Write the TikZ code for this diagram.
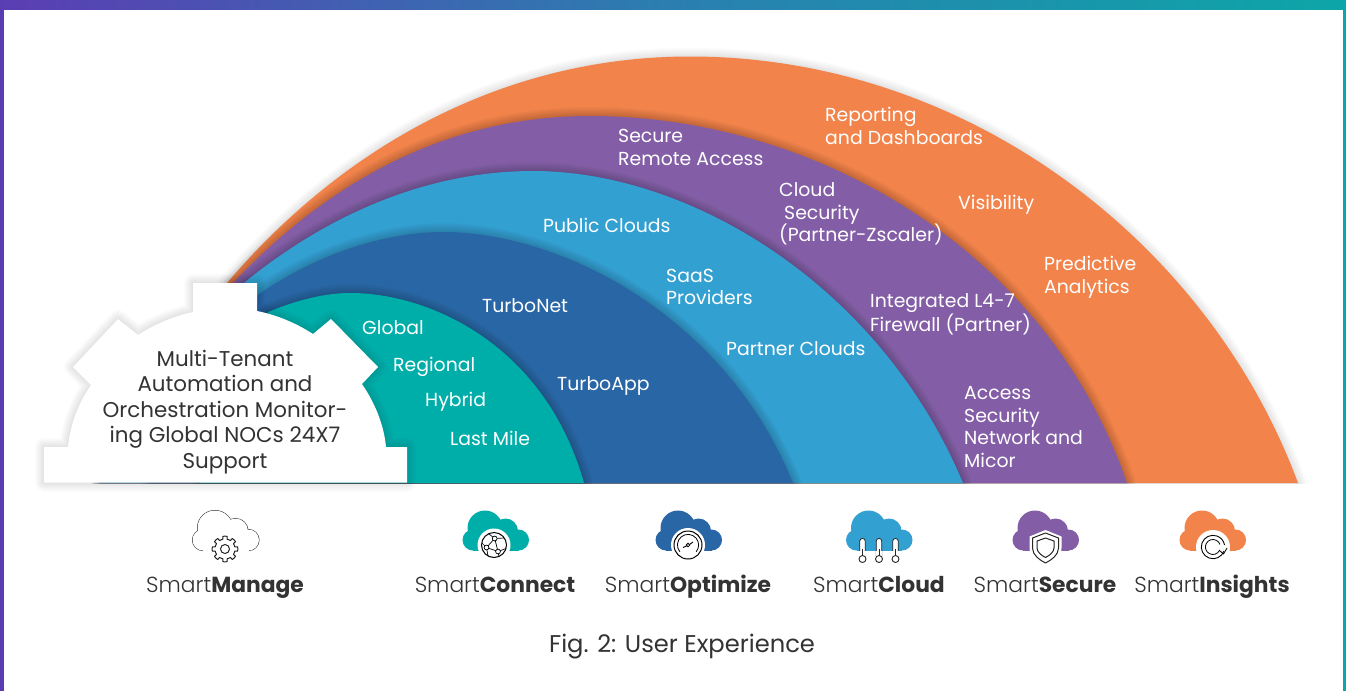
\documentclass[tikz,border=0pt]{standalone}
\usepackage{fontspec}
\setmainfont{Poppins}
\newfontfamily\lightfam{Poppins Light}
\definecolor{cOrange}{HTML}{F1834B}
\definecolor{cPurple}{HTML}{835EA6}
\definecolor{cBlue}{HTML}{33A0D2}
\definecolor{cDark}{HTML}{2966A5}
\definecolor{cTeal}{HTML}{00AEA9}
\definecolor{cInk}{HTML}{333333}
\definecolor{cBarL}{HTML}{5B3DB3}
\definecolor{cBarM}{HTML}{2A7FB0}
\definecolor{cBarR}{HTML}{0DA6A8}
\newcommand\pOrange{(100,483) -- (227,283) .. controls (340,150) and (500,56.5) .. (690,56.5) .. controls (970,56.5) and (1210,245) .. (1298,483) -- cycle}
\newcommand\pPurple{(100,483) -- (233,283) .. controls (340,170) and (460,116) .. (590,116) .. controls (810,116) and (1045,245) .. (1127,483) -- cycle}
\newcommand\pBlue{(100,483) -- (245,282) .. controls (340,205) and (440,171) .. (533,171) .. controls (690,171) and (880,285) .. (963,483) -- cycle}
\newcommand\pDark{(150,483) -- (258,295) .. controls (310,258) and (380,232) .. (443,232) .. controls (560,232) and (725,315) .. (793,483) -- cycle}
\newcommand\pTeal{(200,483) -- (268,312) .. controls (290,303) and (320,293) .. (350,293) .. controls (430,293) and (545,345) .. (584,483) -- cycle}
\newcommand\archband[3]{%
  \begin{scope}\clip (0,0) rectangle (1346,483);
  \foreach \w in {2,4,...,18}{\draw[black,opacity=#3,line width=\w pt,line join=round] #1;}
  \end{scope}
  \fill[#2] #1;}
\newcommand\gearoutline{(44,447) -- (68,447) .. controls (70,427) and (77,405) .. (91,385) -- (73,367) -- (118,319) -- (138,335) .. controls (155,324) and (174,316) .. (193,312) -- (193,283) -- (257,283) -- (257,311) .. controls (277,315) and (296,323) .. (313,334) -- (331,319) -- (378,367) -- (362,384) .. controls (375,403) and (384,425) .. (386,447) -- (407,447) -- (407,482.6) -- (44,482.6) -- cycle}
\newcommand\cloudparts[1]{%
  #1 (-10.5,528) circle[radius=17.5];
  #1 (10,531) circle[radius=12.5];
  #1 (-22.5,540) circle[radius=10.5];
  #1 (23,540) circle[radius=10.5];
  #1 (-22.5,535) rectangle (23,550.5);}
\newcommand\brandlabel[3]{\node[brand,name=#1] at (#2,592) {{\lightfam Smart}\textbf{#3}};}
\tikzset{
  lbl/.style={text=white,anchor=west,align=left,inner sep=0pt,font=\fontsize{18.85}{22.6}\selectfont},
  brand/.style={text=cInk,anchor=base,inner sep=0pt,font=\fontsize{21.8}{25}\selectfont},
  iconstroke/.style={draw=black!85,line width=1pt}
}
\begin{document}
\begin{tikzpicture}[x=1pt,y=-1pt]
\useasboundingbox (0,0) rectangle (1346,691);
\fill[white] (0,0) rectangle (1346,691);
\shade[left color=cBarL,right color=cBarR,middle color=cBarM] (0,0) rectangle (1346,9);
\fill[cBarL] (0,9) rectangle (4,691);
\fill[cBarR] (1343,9) rectangle (1346,691);
% bands
\archband{\pOrange}{cOrange}{.012}
\archband{\pPurple}{cPurple}{.018}
\archband{\pBlue}{cBlue}{.018}
\archband{\pDark}{cDark}{.018}
\archband{\pTeal}{cTeal}{.018}
% gear
\foreach \w in {2,4,...,18}{\draw[black,opacity=.012,line width=\w pt,line join=round] \gearoutline;}
\fill[white] \gearoutline;
\node[name=hub,text=cInk,align=center,inner sep=0pt,font=\fontsize{21.4}{25.6}\selectfont] at (225,412) {Multi-Tenant\\Automation and\\Orchestration Monitor-\\ing Global NOCs 24X7\\Support};
% labels
\node[lbl,name=l1] at (825,126) {Reporting\\and Dashboards};
\node[lbl,name=l2] at (618,147.5) {Secure\\Remote Access};
\node[lbl,name=l3] at (958,205) {Visibility};
\node[lbl,name=l4] at (779,214) {Cloud\\\hspace*{5pt}Security\\(Partner-Zscaler)};
\node[lbl,name=l5] at (543,225.5) {Public Clouds};
\node[lbl,name=l6] at (666,287) {SaaS\\Providers};
\node[lbl,name=l7] at (1044,277.5) {Predictive\\Analytics};
\node[lbl,name=l8] at (870,314.5) {Integrated L4-7\\Firewall (Partner)};
\node[lbl,name=l9] at (362,328) {Global};
\node[lbl,name=l10] at (393,367) {Regional};
\node[lbl,name=l11] at (425,402) {Hybrid};
\node[lbl,name=l12] at (450,438) {Last Mile};
\node[lbl,name=l13] at (482,306) {TurboNet};
\node[lbl,name=l14] at (557,386) {TurboApp};
\node[lbl,name=l15] at (726,349) {Partner Clouds};
\node[lbl,name=l16] at (964,427) {Access\\Security\\Network and\\Micor};
% SmartManage icon
\begin{scope}[shift={(225.5,0)}]
  \cloudparts{\draw[black!85,line width=1pt]}
  \cloudparts{\fill[white]}
  \fill[white] (0,549) circle[radius=16];
\end{scope}
\begin{scope}[shift={(225,549)}]
  \draw[iconstroke,fill=white,line join=round] plot[domain=0:360,samples=145] (\x:{(cos(8*\x)>0?12.8:10)}) -- cycle;
  \draw[iconstroke] (0,0) circle[radius=4.5];
\end{scope}
% SmartConnect icon
\begin{scope}[shift={(495.5,0)}]
  \cloudparts{\fill[cTeal]}
  \fill[white] (-1.5,545) circle[radius=16.5];
\end{scope}
\begin{scope}[shift={(494,545)}]
  \draw[black,line width=1pt] (0,0) circle[radius=12.5];
  \draw[black,line width=.7pt] (.7,-6.5) -- (-7.5,2.5) -- (4,6.5) -- cycle (.7,-6.5) -- (-5,-11) (.7,-6.5) -- (10,-7) (-7.5,2.5) -- (-12,-2) (-7.5,2.5) -- (-6,11) (4,6.5) -- (12,3.5) (4,6.5) -- (5,11.5);
  \foreach \p in {(.7,-6.5),(-7.5,2.5),(4,6.5)}{\draw[black,line width=.7pt,fill=white] \p circle[radius=2.4];}
\end{scope}
% SmartOptimize icon
\begin{scope}[shift={(688.5,0)}]
  \cloudparts{\fill[cDark]}
  \fill[white] (-.5,545) circle[radius=17];
\end{scope}
\begin{scope}[shift={(688,545)}]
  \draw[black,line width=1pt] (0,0) circle[radius=14];
  \draw[black,line width=.8pt] (-8.1,6.8) arc[start angle=140,end angle=400,radius=10.6];
  \draw[black,line width=.9pt] (-5,2.5) -- (-1.5,1) (1.5,-.5) -- (5,-3);
  \draw[black,line width=.8pt,fill=white] (0,0) circle[radius=1.8];
\end{scope}
% SmartCloud icon
\begin{scope}[shift={(879,0)}]
  \cloudparts{\fill[cBlue]}
  \foreach \a in {-16.5,0,16.5}{
    \draw[iconstroke,line width=.8pt,fill=white,rounded corners=2.5pt] (\a-2.7,556) -- (\a-2.7,538.5) -- (\a+2.7,538.5) -- (\a+2.7,556);
    \fill[white] (\a-3.2,550.7) rectangle (\a+3.2,557);
    \draw[iconstroke,line width=.8pt] (\a,549) -- (\a,556);
    \draw[iconstroke,line width=.9pt,fill=white] (\a,559) circle[radius=3.5];
  }
\end{scope}
% SmartSecure icon
\begin{scope}[shift={(1045.5,0)}]
  \cloudparts{\fill[cPurple]}
  \fill[white] (0,530) -- (16,536.5) -- (16,548) .. controls (16,557) and (8,563) .. (0,566) .. controls (-8,563) and (-16,557) .. (-16,548) -- (-16,536.5) -- cycle;
  \draw[iconstroke,line join=round] (0,533) -- (13,538) -- (13,548) .. controls (13,555) and (6,560) .. (0,563) .. controls (-6,560) and (-13,555) .. (-13,548) -- (-13,538) -- cycle;
  \draw[iconstroke,line join=round] (0,538) -- (8.5,541) -- (8.5,548) .. controls (8.5,552) and (4,555.5) .. (0,557.5) .. controls (-4,555.5) and (-8.5,552) .. (-8.5,548) -- (-8.5,541) -- cycle;
\end{scope}
% SmartInsights icon
\begin{scope}[shift={(1212.5,0)}]
  \cloudparts{\fill[cOrange]}
  \fill[white] (.5,547) circle[radius=17];
\end{scope}
\begin{scope}[shift={(1213,547)}]
  \draw[black,line width=.9pt] (11,4) arc[start angle=20,end angle=350,radius=11.7];
  \draw[black,line width=.8pt] (6.5,3.5) arc[start angle=28,end angle=340,radius=7.5];
  \draw[black,line width=.8pt,line join=round] (6,3) -- (10.5,7) -- (14,1);
\end{scope}
% brand labels
\brandlabel{b1}{225}{Manage}
\brandlabel{b2}{495}{Connect}
\brandlabel{b3}{688}{Optimize}
\brandlabel{b4}{879}{Cloud}
\brandlabel{b5}{1045}{Secure}
\brandlabel{b6}{1212}{Insights}
\node[name=cap,text=cInk,inner sep=0pt,font=\fontsize{24.2}{28}\selectfont] at (682,647) {Fig. 2: User Experience};
\end{tikzpicture}
\end{document}
